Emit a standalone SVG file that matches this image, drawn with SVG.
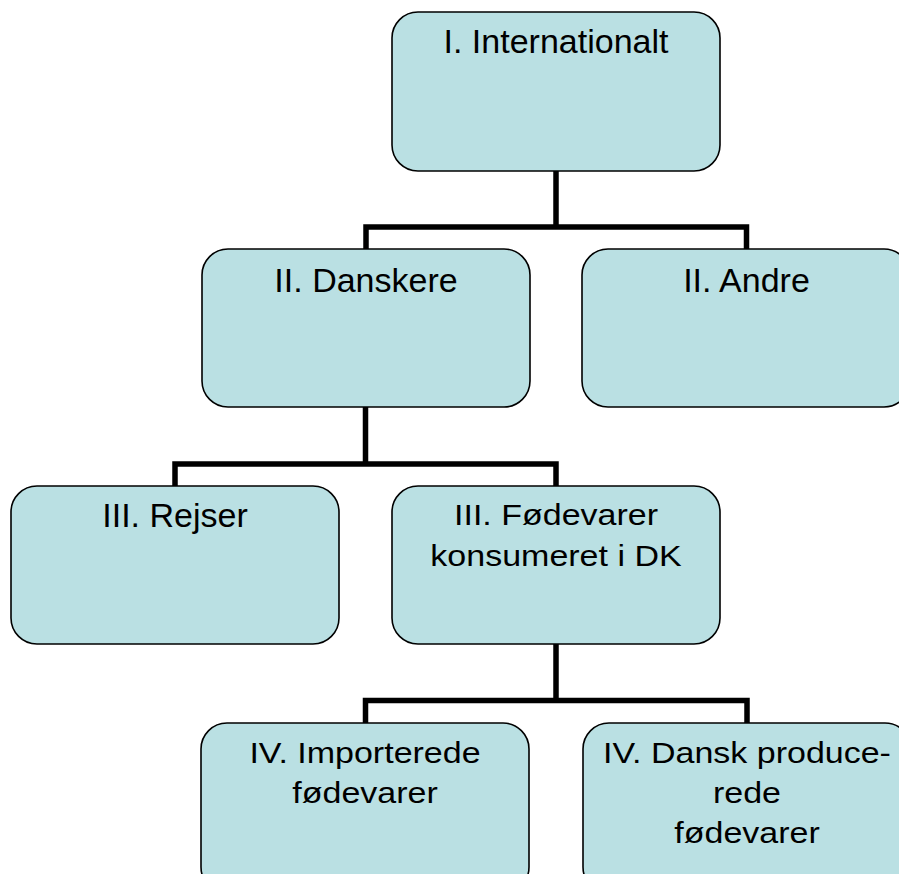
<svg xmlns="http://www.w3.org/2000/svg" width="899" height="874" viewBox="0 0 899 874">
<style>
.box{fill:#BAE0E3;stroke:#000;stroke-width:1.6}
.t{font-family:"Liberation Sans",Arial,sans-serif;font-size:34px;fill:#000;text-anchor:middle}
.c{fill:none;stroke:#000;stroke-width:5.5;stroke-linejoin:miter}
</style>
<rect width="899" height="874" fill="#fff"/>
<g id="connectors">
<path class="c" d="M556,171 V227 M366,249 V227 H746.5 V249"/>
<path class="c" d="M365.5,407 V464 M175,486 V464 H556 V486"/>
<path class="c" d="M556,644 V700.5 M365.5,723 V700.5 H747 V723"/>
</g>
<g id="n1">
<rect class="box" x="392" y="12" width="328" height="159" rx="26"/>
<text class="t" x="556" y="53">I. Internationalt</text>
</g>
<g id="n2">
<rect class="box" x="202" y="249" width="328" height="158" rx="26"/>
<text class="t" x="366" y="292">II. Danskere</text>
</g>
<g id="n3">
<rect class="box" x="582" y="249" width="328" height="158" rx="26"/>
<text class="t" x="746.5" y="292">II. Andre</text>
</g>
<g id="n4">
<rect class="box" x="11" y="486" width="328" height="158" rx="26"/>
<text class="t" x="175" y="527">III. Rejser</text>
</g>
<g id="n5">
<rect class="box" x="392" y="486" width="328" height="158" rx="26"/>
<text class="t" transform="translate(556,525) scale(1,0.88)" x="0" y="0">III. Fødevarer</text>
<text class="t" transform="translate(556,566) scale(1,0.88)" x="0" y="0">konsumeret i DK</text>
</g>
<g id="n6">
<rect class="box" x="201" y="723" width="328" height="170" rx="26"/>
<text class="t" transform="translate(365,763) scale(1,0.88)" x="0" y="0">IV. Importerede</text>
<text class="t" transform="translate(365,803) scale(1,0.88)" x="0" y="0">fødevarer</text>
</g>
<g id="n7">
<rect class="box" x="583" y="723" width="328" height="170" rx="26"/>
<text class="t" transform="translate(747,763) scale(1,0.88)" x="0" y="0">IV. Dansk produce-</text>
<text class="t" transform="translate(747,803) scale(1,0.88)" x="0" y="0">rede</text>
<text class="t" transform="translate(747,843) scale(1,0.88)" x="0" y="0">fødevarer</text>
</g>
</svg>
